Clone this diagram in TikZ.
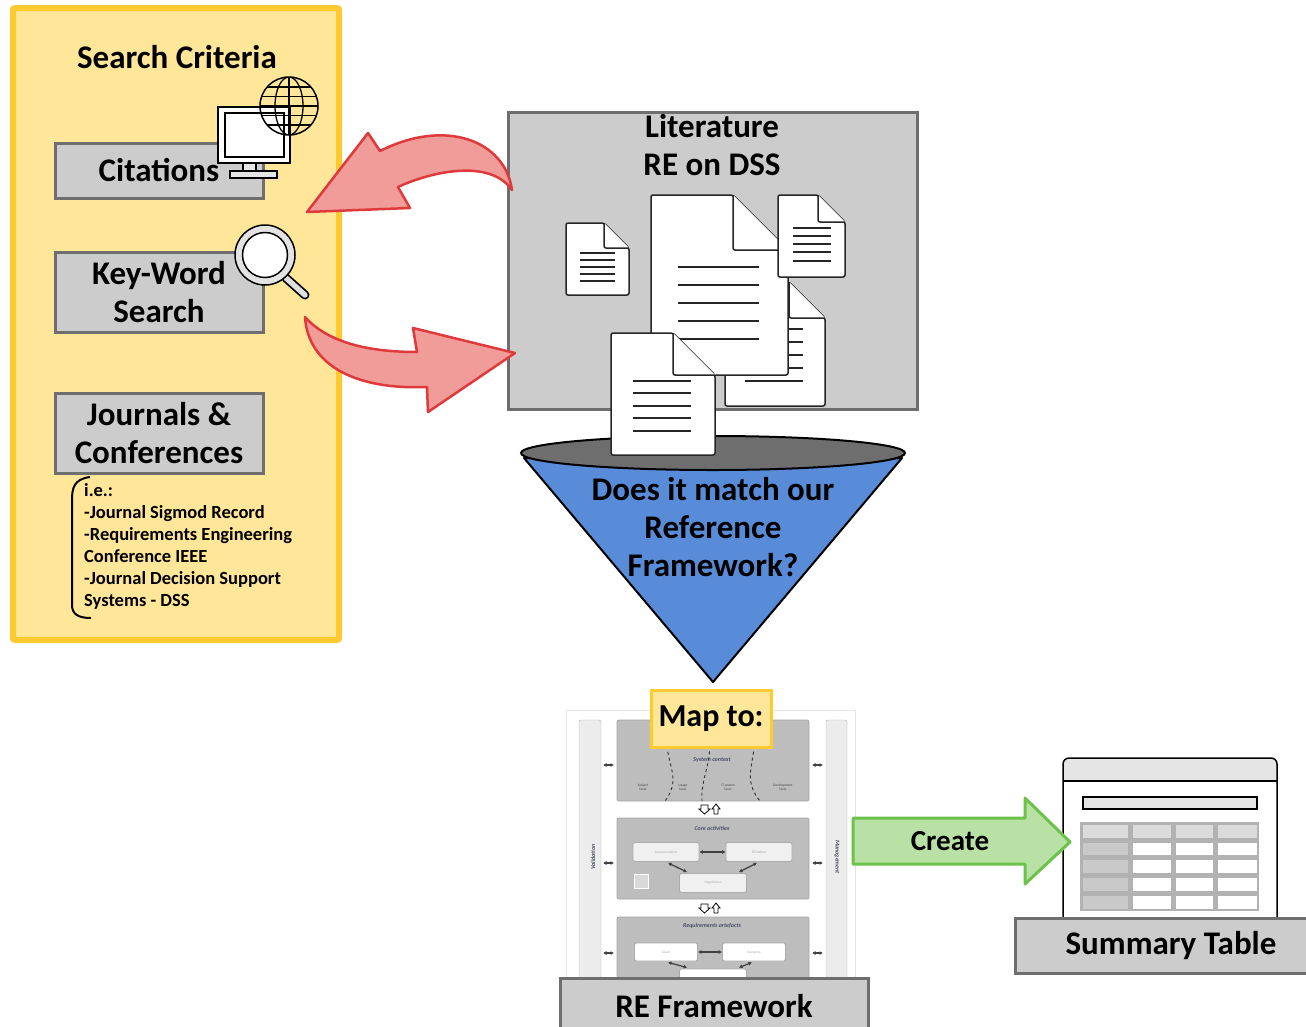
\documentclass[tikz,border=0pt]{standalone}
\usepackage{fontspec}
\setmainfont{Carlito}
\usepackage{xcolor}
\usetikzlibrary{calc,positioning,arrows.meta}

\definecolor{panelfill}{HTML}{FFE699}
\definecolor{panelline}{HTML}{FFC930}
\definecolor{boxfill}{HTML}{CCCCCC}
\definecolor{boxline}{HTML}{6E6E6E}
\definecolor{redfill}{HTML}{F09C99}
\definecolor{redline}{HTML}{E0393C}
\definecolor{greenfill}{HTML}{B9E0A5}
\definecolor{greenline}{HTML}{6CC24A}
\definecolor{funnelblue}{HTML}{588CD8}
\definecolor{funneltop}{HTML}{6E6E6E}
\definecolor{fwgrey}{HTML}{BDBDBD}
\definecolor{fwtext}{HTML}{4A4F66}

% a sheet of paper with a folded corner: x, y, width, height, fold
\newcommand\paperdoc[5]{%
  \filldraw[doc] (#1,#2) -- (#1+#3-#5,#2) -- (#1+#3,#2+#5) -- (#1+#3,#2+#4) -- (#1,#2+#4) -- cycle;
  \draw[doc] (#1+#3-#5,#2) -- (#1+#3-#5,#2+#5) -- (#1+#3,#2+#5);}

\begin{document}
\begin{tikzpicture}[x=1pt,y=-1pt,
    greybox/.style={draw=boxline, fill=boxfill, line width=3pt, align=center,
      font=\bfseries\fontsize{33}{38}\selectfont, inner sep=0pt},
    bigtext/.style={align=center, font=\bfseries\fontsize{33}{38}\selectfont},
    doc/.style={draw=black!85, fill=white, line width=1.5pt, rounded corners=2pt},
    docrule/.style={black!85, line width=1.5pt},
    redarrow/.style={fill=redfill, draw=redline, line width=2.5pt, line join=round},
    fwbox/.style={draw=gray!65, fill=gray!12, rounded corners=1.5pt, line width=0.8pt,
      minimum width=63pt, minimum height=19pt, inner sep=0pt, text=gray!70,
      font=\fontsize{3.5}{4}\selectfont},
    fwhead/.style={text=fwtext, font=\bfseries\itshape\fontsize{6}{7}\selectfont},
    fwsmall/.style={text=gray!55!black, align=center, font=\fontsize{3.5}{4}\selectfont},
    fwlink/.style={{Latex[length=3.5pt,width=4pt]}-{Latex[length=3.5pt,width=4pt]}, line width=1.2pt, black!75}]

  \useasboundingbox (0,0) rectangle (1306,1026);
  \fill[white] (0,0) rectangle (1306,1026);

  % search criteria panel
  \filldraw[fill=panelfill, draw=panelline, line width=6pt, rounded corners=2pt]
    (13,8) rectangle (339,640);
  \node[bigtext] (crit) at (177,57) {Search Criteria};

  \node[greybox, minimum width=208, minimum height=55] (cit) at (159,170.5) {Citations};
  \node[greybox, minimum width=208, minimum height=80] (kws) at (159,292) {Key-Word\\Search};
  \node[greybox, minimum width=208, minimum height=80] (jnl) at (159,433) {Journals \&\\Conferences};

  % computer with globe
  \filldraw[fill=white, line width=1.5pt] (218,107) rectangle (290,163);
  \draw[line width=1.5pt] (225,113) rectangle (284,157);
  \filldraw[fill=gray!20, line width=1.5pt] (243,163) rectangle (256,171);
  \filldraw[fill=gray!20, line width=1.5pt] (230,171) rectangle (277,178);
  \begin{scope}
    \clip (289,106) circle (29);
    \foreach \dy in {-19,-9.5,0,9.5,19}
      \draw[line width=1.3pt] (255,106+\dy) -- (325,106+\dy);
    \draw[line width=1.3pt] (289,70) -- (289,140);
    \draw[line width=1.3pt] (289,106) ellipse (14 and 29);
  \end{scope}
  \draw[line width=1.5pt] (289,106) circle (29);

  % magnifying glass
  \draw[line width=9pt, line cap=round] (286,278) -- (305,295);
  \draw[line width=5.5pt, line cap=round, gray!25] (286,278) -- (305,295);
  \filldraw[fill=gray!22, line width=1.5pt] (265,255) circle (30);
  \filldraw[fill=white, line width=1.5pt] (265,255) circle (22.5);

  % examples of venues
  \draw[line width=2pt] (90,477) .. controls (74,479) and (72,488) .. (72,500)
    -- (72,605) .. controls (72,614) and (78,618) .. (91,618);
  \node[anchor=north west, align=left, inner sep=0pt, font=\bfseries\fontsize{18.5}{22}\selectfont]
    (venues) at (84,483) {i.e.:\\-Journal Sigmod Record\\-Requirements Engineering\\Conference IEEE\\-Journal Decision Support\\Systems - DSS};

  % literature
  \node[greybox, minimum width=409, minimum height=297, anchor=north west] (lit) at (507,111) {};
  \node[bigtext, anchor=north] (littitle) at (712,111) {Literature\\RE on DSS};

  \paperdoc{566}{223}{63}{72}{25}
  \foreach \y in {253,260,267,274,281} \draw[docrule] (580,\y) -- (615,\y);
  \paperdoc{725}{282}{100}{124}{36}
  \foreach \y in {329,342,355,368,381} \draw[docrule] (745,\y) -- (803,\y);
  \paperdoc{651}{195}{137}{180}{55}
  \foreach \y in {267,285,303,321,339} \draw[docrule] (678,\y) -- (759,\y);
  \paperdoc{778}{195}{67}{82}{27}
  \foreach \y in {228,236,244,252,261} \draw[docrule] (793,\y) -- (831,\y);

  % funnel
  \filldraw[fill=funnelblue, line width=2pt, line join=round] (524,458) -- (902,458) -- (713,682) -- cycle;
  \filldraw[fill=funneltop, line width=2pt] (713,453) ellipse (192 and 17);
  \paperdoc{611}{333}{104}{122}{42}
  \foreach \y in {381,393,406,418,431} \draw[docrule] (633,\y) -- (691,\y);
  \node[bigtext] (match) at (713,527) {Does it match our\\Reference\\Framework?};

  % feedback arrows
  \filldraw[redarrow] (512,190) .. controls (505,140) and (445,118) .. (380,151)
    -- (368,133) -- (307,212) -- (410,208) -- (398,187)
    .. controls (430,172) and (490,158) .. (512,190) -- cycle;
  \filldraw[redarrow] (305,317) .. controls (330,345) and (375,352) .. (417,352)
    -- (413,328) -- (515,353) -- (428,412) -- (427,387)
    .. controls (355,390) and (308,365) .. (305,317) -- cycle;

  % reference framework
  \filldraw[fill=white, draw=gray!20] (566,710) rectangle (855,990);
  \filldraw[fill=gray!15, draw=gray!60, rounded corners=2pt] (579,720) rectangle (601,995);
  \filldraw[fill=gray!15, draw=gray!60, rounded corners=2pt] (826,720) rectangle (847,995);
  \node[fwhead, rotate=90] (valid) at (593,857) {Validation};
  \node[fwhead, rotate=-90] (manag) at (837,857) {Management};
  \foreach \y in {765,863,953} {
    \draw[fwlink] (603,\y) -- (614,\y);
    \draw[fwlink] (812,\y) -- (823,\y);}

  \filldraw[fill=fwgrey, draw=gray!70, rounded corners=2pt, line width=0.8pt] (617,720) rectangle (809,801);
  \filldraw[fill=fwgrey, draw=gray!70, rounded corners=2pt, line width=0.8pt] (617,818) rectangle (809,899);
  \filldraw[fill=fwgrey, draw=gray!70, rounded corners=2pt, line width=0.8pt] (617,917) rectangle (809,995);

  \node[fwhead] (ctx) at (712,760) {System context};
  \draw[dashed, gray!40!black, line width=0.9pt] (668,722) .. controls (660,760) and (685,775) .. (665,801);
  \draw[dashed, gray!40!black, line width=0.9pt] (705,722) .. controls (718,755) and (700,775) .. (702,801);
  \draw[dashed, gray!40!black, line width=0.9pt] (752,722) .. controls (762,755) and (738,775) .. (760,801);
  \node[fwsmall] (fsub) at (643,787) {Subject\\facet};
  \node[fwsmall] (fuse) at (683,787) {Usage\\facet};
  \node[fwsmall] (fit) at (728,787) {IT system\\facet};
  \node[fwsmall] (fdev) at (783,787) {Development\\facet};

  \node[fwhead] (core) at (712,828) {Core activities};
  \node[fwbox, minimum width=66] (docu) at (666,852) {Documentation};
  \node[fwbox, minimum width=66] (elic) at (759,852) {Elicitation};
  \node[fwbox, minimum width=67] (nego) at (713,883) {Negotiation};
  \draw[fwlink] (docu) -- (elic);
  \draw[fwlink] ($(docu.south)+(2,1)$) -- ($(nego.north west)+(8,-1)$);
  \draw[fwlink] ($(elic.south)+(-2,1)$) -- ($(nego.north east)+(-8,-1)$);
  \filldraw[fill=gray!30, draw=white, line width=0.8pt] (634,874) rectangle (648,888);

  \node[fwhead] (arte) at (712,926) {Requirements artefacts};
  \node[fwbox, fill=white, minimum width=63, minimum height=18] (goal) at (666,952) {Goals};
  \node[fwbox, fill=white, minimum width=63, minimum height=18] (scen) at (754,952) {Scenarios};
  \node[fwbox, fill=white, minimum width=67, minimum height=18] (solo) at (713,978) {};
  \draw[fwlink] (goal) -- (scen);
  \draw[fwlink] ($(goal.south)+(2,1)$) -- ($(solo.north west)+(8,-1)$);
  \draw[fwlink] ($(scen.south)+(-2,1)$) -- ($(solo.north east)+(-8,-1)$);

  % transitions between layers
  \foreach \y in {809,908} {
    \draw[line width=0.8pt, fill=white] (701,\y-4) -- (708,\y-4) -- (708,\y) -- (710,\y) -- (704.5,\y+5) -- (699,\y) -- (701,\y) -- cycle;
    \draw[line width=0.8pt, fill=white] (714,\y+5) -- (718,\y+5) -- (718,\y) -- (720,\y) -- (716,\y-5) -- (712,\y) -- (714,\y) -- cycle;}

  \node[draw=panelline, fill=panelfill, line width=3pt, minimum width=120, minimum height=57,
    font=\bfseries\fontsize{32}{38}\selectfont] (mapto) at (711,718.5) {Map to:};
  \node[greybox, minimum width=308, minimum height=56] (refw) at (714,1006) {RE Framework};

  % summary table
  \begin{scope}
    \clip (1063,758) rectangle (1277,781);
    \fill[gray!20, rounded corners=6pt] (1063,758) rectangle (1277,800);
  \end{scope}
  \fill[white] (1063,781) rectangle (1277,925);
  \draw[line width=1.5pt] (1063,781) -- (1277,781);
  \draw[line width=1.5pt, rounded corners=6pt] (1063,925) -- (1063,758) -- (1277,758) -- (1277,925);
  \filldraw[fill=gray!20, line width=1.5pt] (1083,797) rectangle (1257,809);
  \fill[gray!60] (1080,822) rectangle (1259,911);
  \foreach \ya/\yb [count=\i] in {822/840,840/857,857/875,875/893,893/911}
    \foreach \xa/\xb [count=\j] in {1080/1130,1130/1173,1173/1215,1215/1259} {
      \ifnum\i=1 \def\cellc{gray!28}\else\ifnum\j=1 \def\cellc{gray!42}\else\def\cellc{white}\fi\fi
      \fill[\cellc] (\xa+2.5,\ya+2.5) rectangle (\xb-2.5,\yb-2.5);}
  \node[greybox, minimum width=312, minimum height=55] (summ) at (1171,945.5) {Summary Table};

  % create arrow
  \filldraw[fill=greenfill, draw=greenline, line width=3pt, line join=round]
    (853,818) -- (1025,818) -- (1025,798) -- (1070,842) -- (1025,884) -- (1025,864) -- (853,864) -- cycle;
  \node[font=\bfseries\fontsize{29}{34}\selectfont] (create) at (950,841) {Create};
\end{tikzpicture}
\end{document}
